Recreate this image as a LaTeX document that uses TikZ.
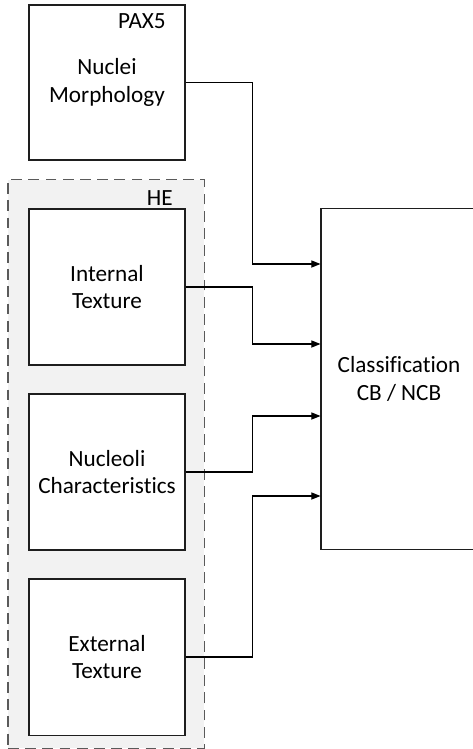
\documentclass[tikz,border=0pt]{standalone}
\usepackage{fontspec}
\setmainfont[Ligatures=NoCommon]{Carlito}
\usepackage{xcolor}
\usetikzlibrary{arrows.meta, positioning}
\definecolor{heFill}{RGB}{242,242,242}
\definecolor{heLine}{RGB}{90,90,90}
\definecolor{blkLine}{RGB}{30,30,30}

\begin{document}
\begin{tikzpicture}[x=0.025cm, y=-0.025cm,
    blk/.style={draw=blkLine, fill=white, line width=0.75pt, minimum width=3.9cm,
      minimum height=3.9cm, align=center, font=\fontsize{16.5}{19.5}\selectfont, inner sep=0pt},
    grp/.style={draw=heLine, fill=heFill, line width=0.75pt, dash pattern=on 0.27cm off 0.16cm,
      minimum width=4.9cm, minimum height=14.2cm, inner sep=0pt},
    tag/.style={anchor=north east, inner sep=0pt, font=\fontsize{16.5}{19.5}\selectfont},
    arr/.style={-{Triangle[length=2.3mm, width=1.8mm]}, line width=0.75pt, draw=black}
  ]
    \useasboundingbox (0,0) rectangle (473,749);
    \node[grp] (he) at (106,464) {};
    \node[tag] (hetag) at (173,190) {HE};
    \node[blk, minimum height=3.875cm] (pax) at (107,82.5) {Nuclei\\Morphology};
    \node[tag] (paxtag) at (166,13) {PAX5};
    \node[blk] (int) at (107,287) {Internal\\Texture};
    \node[blk] (nuc) at (107,472) {Nucleoli\\Characteristics};
    \node[blk] (ext) at (107,657) {External\\Texture};
    \node[blk, minimum height=8.5cm] (cls) at (399,379) {Classification\\CB / NCB};
    \draw[arr] (pax.east) -- ++(67,0) |- (cls.west |- 0,264);
    \draw[arr] (int.east) -- ++(67,0) |- (cls.west |- 0,344);
    \draw[arr] (nuc.east) -- ++(67,0) |- (cls.west |- 0,416);
    \draw[arr] (ext.east) -- ++(67,0) |- (cls.west |- 0,496);
  \end{tikzpicture}
\end{document}
